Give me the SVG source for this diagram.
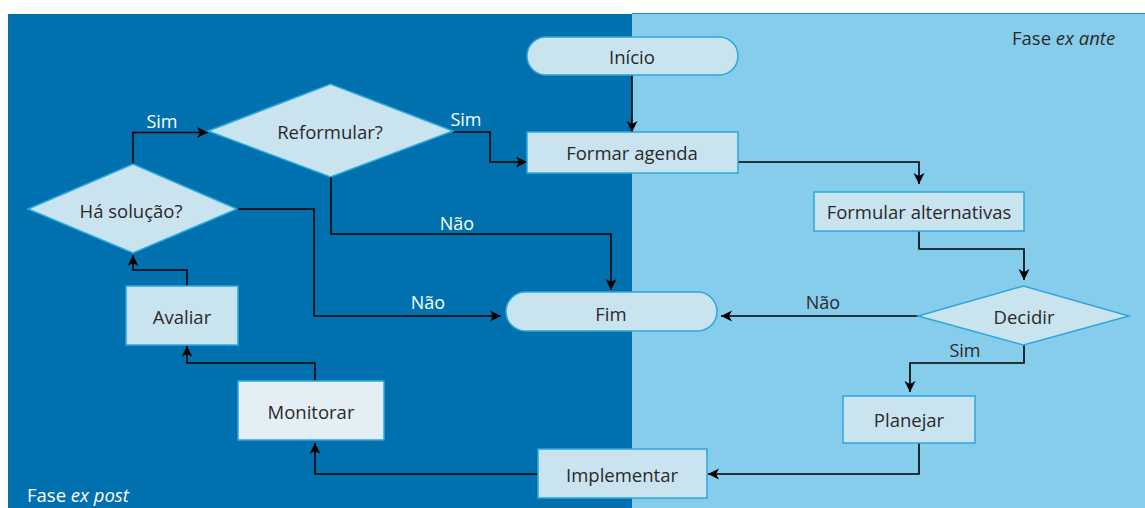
<svg xmlns="http://www.w3.org/2000/svg" width="1145" height="508" viewBox="0 0 1145 508">
<defs>
<style>
.node{fill:#C9E3EF;stroke:#2AA8DE;stroke-width:1.5}
.light{fill:#E3EEF5}
.t{font-family:"Open Sans","Noto Sans","Liberation Sans",sans-serif;font-size:18.5px;fill:#2A2A2A;text-anchor:middle;dominant-baseline:central}
.lbl{font-family:"Open Sans","Noto Sans","Liberation Sans",sans-serif;font-size:18px;text-anchor:middle;dominant-baseline:central}
.w{fill:#FFFFFF}
.d{fill:#2A2A2A}
.phase{font-family:"Open Sans","Noto Sans","Liberation Sans",sans-serif;font-size:18.5px}
.conn path{fill:none;stroke:#000;stroke-width:1.6;marker-end:url(#arr)}
</style>
<marker id="arr" markerUnits="userSpaceOnUse" markerWidth="12" markerHeight="12" viewBox="0 0 12 12" refX="11" refY="6" orient="auto">
<path d="M0,0.5 L11,6 L0,11.5 L3,6 Z" fill="#000"/>
</marker>
</defs>
<rect x="0" y="0" width="1145" height="508" fill="#FFFFFF"/>
<rect id="bg-expost" x="8" y="14" width="625" height="494" fill="#0071AE"/>
<rect id="bg-exante" x="632" y="13" width="513" height="495" fill="#86CDEC"/>
<line x1="632" y1="13.5" x2="1145" y2="13.5" stroke="#1E8FCC" stroke-width="1"/>
<text class="phase" x="1012" y="45" fill="#2A2A2A">Fase <tspan font-style="italic">ex ante</tspan></text>
<text class="phase" x="27" y="502" fill="#FFFFFF">Fase <tspan font-style="italic">ex post</tspan></text>

<g id="connectors" class="conn">
<path d="M632,75 V132"/>
<path d="M453,132 H490 V162 H527"/>
<path d="M738,162 H919 V184"/>
<path d="M919,231 V249 H1024 V280"/>
<path d="M918,316 H721"/>
<path d="M1024,345 V363 H910 V392"/>
<path d="M919,443 V474 H708"/>
<path d="M538,474 H315 V443"/>
<path d="M315,381 V363 H187 V346"/>
<path d="M187,286 V270 H133 V255"/>
<path d="M133,164 V132.5 H208"/>
<path d="M237,209 H314 V316 H501"/>
<path d="M331,177 V234 H611 V290"/>
</g>
<g id="edge-labels">
<text class="lbl w" x="162" y="121">Sim</text>
<text class="lbl w" x="466" y="119">Sim</text>
<text class="lbl w" x="457" y="223">Não</text>
<text class="lbl w" x="428" y="302">Não</text>
<text class="lbl d" x="823" y="302">Não</text>
<text class="lbl d" x="965" y="350">Sim</text>
</g>

<g id="inicio"><rect class="node" x="527" y="37" width="211" height="38" rx="19"/><text class="t" x="632" y="56">Início</text></g>
<g id="formar-agenda"><rect class="node" x="527" y="132" width="211" height="41"/><text class="t" x="632" y="152">Formar agenda</text></g>
<g id="formular-alternativas"><rect class="node" x="814" y="192" width="210" height="39"/><text class="t" x="919" y="211">Formular alternativas</text></g>
<g id="decidir"><polygon class="node" points="918,316 1023.5,286 1129,316 1023.5,345"/><text class="t" x="1024" y="316">Decidir</text></g>
<g id="fim"><rect class="node" x="506" y="292" width="211" height="39" rx="19.5"/><text class="t" x="611" y="313">Fim</text></g>
<g id="planejar"><rect class="node" x="843" y="396" width="132" height="47"/><text class="t" x="909" y="419">Planejar</text></g>
<g id="implementar"><rect class="node" x="538" y="449" width="169" height="49"/><text class="t" x="622" y="474">Implementar</text></g>
<g id="monitorar"><rect class="node light" x="238" y="381" width="146" height="59"/><text class="t" x="311" y="411">Monitorar</text></g>
<g id="avaliar"><rect class="node" x="126" y="286" width="112" height="59"/><text class="t" x="182" y="316">Avaliar</text></g>
<g id="ha-solucao"><polygon class="node" points="28,209 133,164 237,209 133,253"/><text class="t" x="131" y="210">Há solução?</text></g>
<g id="reformular"><polygon class="node" points="208,131 330.5,84 453,131 330.5,177"/><text class="t" x="330" y="131">Reformular?</text></g>
</svg>
